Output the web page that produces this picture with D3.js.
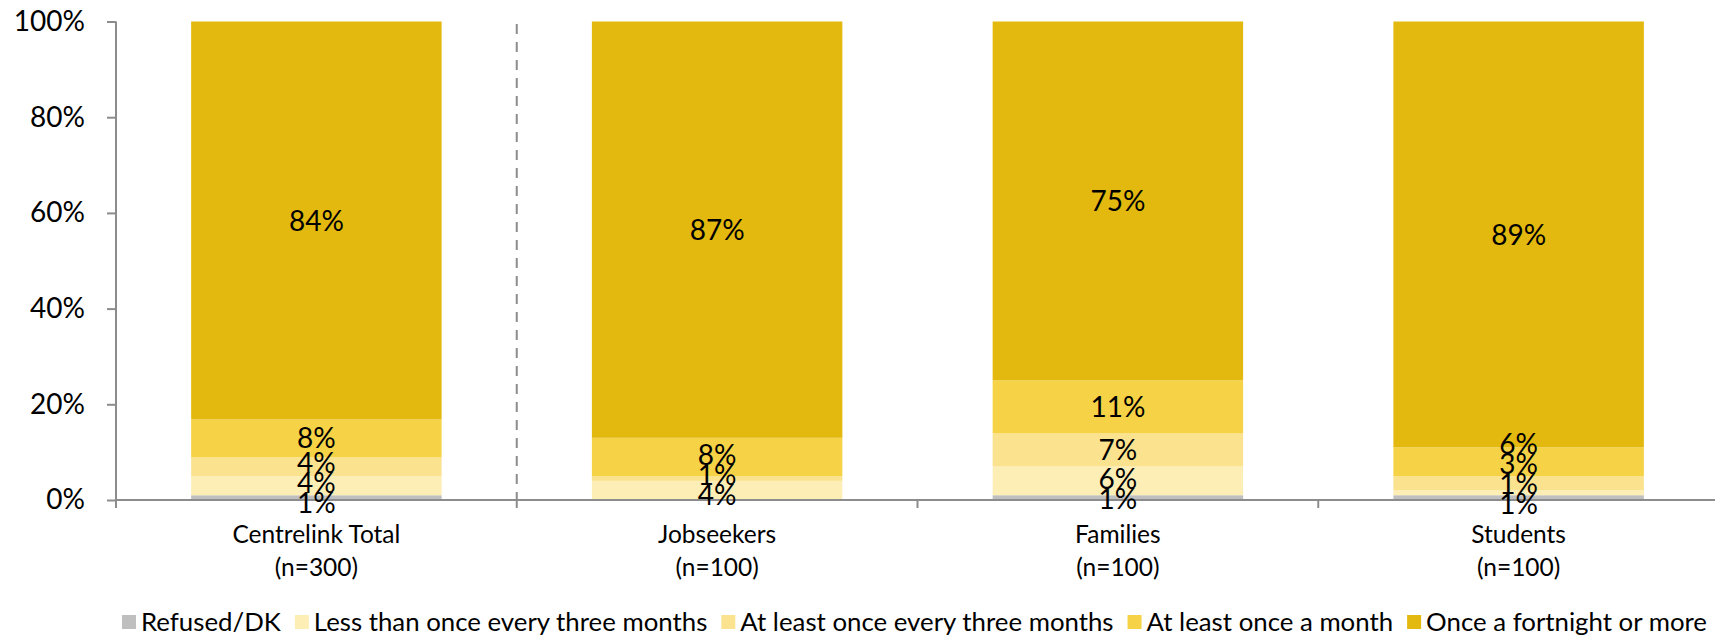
<!DOCTYPE html>
<html>
<head>
<meta charset="utf-8">
<script src="https://cdn.jsdelivr.net/npm/d3@7"></script>
<style>
  html, body { margin: 0; padding: 0; background: #fff; }
  svg { display: block; font-family: Lato, "Open Sans", sans-serif; }
</style>
</head>
<body>
<svg id="chart" width="1715" height="638"></svg>
<script>
// Customer groups and sample sizes
const categories = ["Centrelink Total", "Jobseekers", "Families", "Students"];
const sampleSizes = ["(n=300)", "(n=100)", "(n=100)", "(n=100)"];

// Frequency series, bottom of stack to top (percent)
const seriesNames = [
  "Refused/DK",
  "Less than once every three months",
  "At least once every three months",
  "At least once a month",
  "Once a fortnight or more"
];
const refusedDK          = [1, 0, 1, 1];
const lessThanQuarterly  = [4, 4, 6, 1];
const atLeastQuarterly   = [4, 1, 7, 3];
const atLeastMonthly     = [8, 8, 11, 6];
const fortnightlyOrMore  = [84, 87, 75, 89];

const yTicks = [0, 0.2, 0.4, 0.6, 0.8, 1.0];

const seriesValues = [refusedDK, lessThanQuarterly, atLeastQuarterly, atLeastMonthly, fortnightlyOrMore];
const colors = ["#bfbfbf", "#fdeeb6", "#fae28e", "#f6d246", "#e3b90f"];

const rows = categories.map((c, i) => {
  const r = { category: c };
  seriesNames.forEach((s, j) => r[s] = seriesValues[j][i]);
  return r;
});

const svg = d3.select("#chart");
const plotLeft = 116, plotRight = 1719, plotTop = 21.5, plotBottom = 500;

const x = d3.scaleBand().domain(categories).range([plotLeft, plotRight])
  .paddingInner(0.375).paddingOuter(0.1875);
const y = d3.scaleLinear().domain([0, 1]).range([plotBottom, plotTop]);
const color = d3.scaleOrdinal().domain(seriesNames).range(colors);

// 100% stacked layout
const stacked = d3.stack().keys(seriesNames).offset(d3.stackOffsetExpand)(rows);

// Bars
const layers = svg.append("g").selectAll("g").data(stacked).join("g")
  .attr("fill", d => color(d.key));
layers.selectAll("rect").data(d => d).join("rect")
  .attr("x", d => x(d.data.category))
  .attr("width", x.bandwidth())
  .attr("y", d => y(d[1]))
  .attr("height", d => y(d[0]) - y(d[1]));

// Dashed separator between total and the sub-groups
const boundaries = d3.range(categories.length + 1).map(i => plotLeft + i * x.step());
svg.append("line")
  .attr("x1", boundaries[1]).attr("x2", boundaries[1])
  .attr("y1", y(1) + 2.5).attr("y2", plotBottom)
  .attr("stroke", "#8c8c8c").attr("stroke-width", 2)
  .attr("stroke-dasharray", "10,8");

// Y axis
const yAxis = svg.append("g").attr("transform", `translate(${plotLeft},0)`)
  .call(d3.axisLeft(y).tickValues(yTicks).tickFormat(d3.format(".0%"))
    .tickSizeInner(9).tickSizeOuter(0).tickPadding(22));
yAxis.select(".domain").remove();
yAxis.selectAll(".tick line").attr("stroke", "#8c8c8c").attr("stroke-width", 2);
yAxis.selectAll(".tick text").attr("font-size", 28).attr("fill", "#000")
  .attr("font-family", "Lato, sans-serif");
svg.append("line").attr("x1", plotLeft).attr("x2", plotLeft)
  .attr("y1", plotTop).attr("y2", plotBottom + 8)
  .attr("stroke", "#8c8c8c").attr("stroke-width", 2);

// X axis line and band ticks
svg.append("line").attr("x1", plotLeft).attr("x2", 1715)
  .attr("y1", plotBottom).attr("y2", plotBottom)
  .attr("stroke", "#8c8c8c").attr("stroke-width", 2);
svg.append("g").selectAll("line").data(boundaries).join("line")
  .attr("x1", d => d).attr("x2", d => d)
  .attr("y1", plotBottom).attr("y2", plotBottom + 8)
  .attr("stroke", "#8c8c8c").attr("stroke-width", 2);

// Category labels
const catLabels = svg.append("g").attr("font-size", 24.5).attr("text-anchor", "middle").attr("fill", "#000");
categories.forEach((c, i) => {
  const cx = x(c) + x.bandwidth() / 2;
  catLabels.append("text").attr("x", cx).attr("y", 543).text(c);
  catLabels.append("text").attr("x", cx).attr("y", 576).text(sampleSizes[i]);
});

// Data labels: centred on segments, spread apart where they crowd,
// with the lowest label kept just below the baseline
const labelGap = 20;
const lowestLabel = plotBottom + 4;
categories.forEach((c, i) => {
  const labels = [];
  stacked.forEach(layer => {
    const d = layer[i];
    const v = d.data[layer.key];
    if (v > 0) labels.push({ text: v + "%", want: (y(d[0]) + y(d[1])) / 2 });
  });
  // labels run bottom to top (descending y); merge clusters that collide
  const clusters = labels.map(l => ({ items: [l], mean: l.want }));
  const bottomOf = cl => cl.mean + (cl.items.length - 1) * labelGap / 2;
  const topOf = cl => cl.mean - (cl.items.length - 1) * labelGap / 2;
  const clamp = () => clusters.forEach(cl => {
    if (bottomOf(cl) > lowestLabel) cl.mean -= bottomOf(cl) - lowestLabel;
  });
  let merged = true;
  while (merged) {
    merged = false;
    clamp();
    for (let k = 0; k < clusters.length - 1; k++) {
      const a = clusters[k], b = clusters[k + 1];
      if (topOf(a) - bottomOf(b) < labelGap) {
        const items = a.items.concat(b.items);
        clusters.splice(k, 2, { items, mean: d3.mean(items, l => l.want) });
        merged = true;
        break;
      }
    }
  }
  clamp();
  clusters.forEach(cl => {
    const n = cl.items.length;
    cl.items.forEach((l, j) => { l.y = cl.mean + ((n - 1) / 2 - j) * labelGap; });
  });
  svg.append("g").selectAll("text").data(labels).join("text")
    .attr("x", x(c) + x.bandwidth() / 2)
    .attr("y", d => d.y)
    .attr("dy", "0.36em")
    .attr("text-anchor", "middle")
    .attr("font-size", 28)
    .attr("fill", "#000")
    .text(d => d.text);
});

// Legend
const legend = svg.append("g").attr("font-size", 25.8).attr("fill", "#000");
let lx = 0;
seriesNames.forEach((s, i) => {
  const g = legend.append("g").attr("transform", `translate(${lx},0)`);
  g.append("rect").attr("x", 0).attr("y", -7).attr("width", 14).attr("height", 14).attr("fill", colors[i]);
  const t = g.append("text").attr("x", 19).attr("y", 0).attr("dy", "0.35em").text(s);
  lx += 19 + t.node().getComputedTextLength() + 14;
});
const legendWidth = lx - 14;
legend.attr("transform", `translate(${1707 - legendWidth},622)`);
</script>
</body>
</html>
